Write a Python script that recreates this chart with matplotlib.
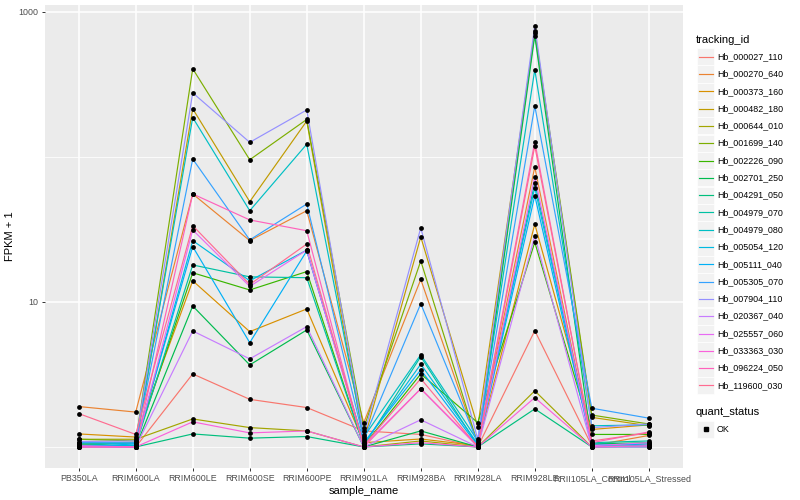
import numpy as np
import matplotlib
matplotlib.use("Agg")
import matplotlib.pyplot as plt
from matplotlib.ticker import FixedLocator, NullFormatter
from matplotlib.patches import Rectangle
from matplotlib.lines import Line2D

plt.rcParams['font.family'] = ['Liberation Sans', 'DejaVu Sans']

samples = ["PB350LA", "RRIM600LA", "RRIM600LE", "RRIM600SE", "RRIM600PE", "RRIM901LA",
           "RRIM928BA", "RRIM928LA", "RRIM928LE", "RRII105LA_Control", "RRII105LA_Stressed"]

tracking_ids = ["Hb_000027_110", "Hb_000270_640", "Hb_000373_160", "Hb_000482_180",
                "Hb_000644_010", "Hb_001699_140", "Hb_002226_090", "Hb_002701_250",
                "Hb_004291_050", "Hb_004979_070", "Hb_004979_080", "Hb_005054_120",
                "Hb_005111_040", "Hb_005305_070", "Hb_007904_110", "Hb_020367_040",
                "Hb_025557_060", "Hb_033363_030", "Hb_096224_050", "Hb_119600_030"]

# ggplot hue palette, 20 levels
colors = ["#F8766D", "#EA8331", "#D89000", "#C09B00", "#A3A500", "#7CAE00", "#39B600",
          "#00BB4E", "#00BF7D", "#00C1A3", "#00BFC4", "#00BAE0", "#00B0F6", "#35A2FF",
          "#9590FF", "#C77CFF", "#E76BF3", "#FA62DB", "#FF62BC", "#FF6C91"]

# FPKM + 1, one list per gene, in the order of samples
hb_000027_110 = [1.02, 1.00, 3.19, 2.13, 1.87, 1.29, 1.22, 1.00, 6.34, 1.02, 1.05]
hb_000270_640 = [1.90, 1.74, 55.6, 26.5, 42.6, 1.47, 14.3, 1.05, 85.3, 1.02, 1.20]
hb_000373_160 = [1.23, 1.17, 14.0, 6.24, 8.95, 1.07, 1.135, 1.02, 34.4, 1.32, 1.42]
hb_000482_180 = [1.05, 1.00, 215, 49.2, 177, 1.10, 28.1, 1.38, 713, 1.60, 1.40]
hb_000644_010 = [1.13, 1.13, 1.56, 1.36, 1.29, 1.00, 1.10, 1.00, 2.44, 1.00, 1.02]
hb_001699_140 = [1.13, 1.10, 406, 95.7, 181.5, 1.35, 19.2, 1.05, 740, 1.66, 1.44]
hb_002226_090 = [1.05, 1.07, 15.9, 12.1, 16.2, 1.02, 3.19, 1.47, 25.8, 1.22, 1.22]
hb_002701_250 = [1.02, 1.00, 9.38, 3.68, 6.41, 1.00, 1.29, 1.00, 687, 1.05, 1.07]
hb_004291_050 = [1.00, 1.00, 1.23, 1.15, 1.18, 1.00, 1.05, 1.00, 1.83, 1.00, 1.00]
hb_004979_070 = [1.05, 1.02, 18.0, 14.9, 14.7, 1.02, 4.20, 1.02, 66.5, 1.07, 1.10]
hb_004979_080 = [1.07, 1.05, 187, 42.6, 122.4, 1.17, 4.33, 1.10, 400, 1.40, 1.42]
hb_005054_120 = [1.02, 1.02, 26.5, 14.0, 22.8, 1.05, 3.72, 1.05, 61.4, 1.05, 1.02]
hb_005111_040 = [1.00, 1.05, 24.1, 5.24, 22.5, 1.07, 3.40, 1.02, 54.1, 1.02, 1.05]
hb_005305_070 = [1.07, 1.07, 96.8, 26.8, 47.4, 1.13, 9.73, 1.07, 225, 1.85, 1.58]
hb_007904_110 = [1.09, 1.10, 277, 126.2, 211, 1.20, 32.4, 1.13, 800, 1.36, 1.44]
hb_020367_040 = [1.00, 1.00, 6.31, 4.05, 6.76, 1.00, 1.54, 1.00, 28.5, 1.00, 1.00]
hb_025557_060 = [1.02, 1.00, 31.4, 12.8, 22.8, 1.02, 2.52, 1.00, 73.1, 1.02, 1.07]
hb_033363_030 = [1.00, 1.00, 1.49, 1.25, 1.29, 1.00, 1.07, 1.00, 2.19, 1.00, 1.02]
hb_096224_050 = [1.00, 1.00, 55.6, 36.8, 31.0, 1.00, 2.52, 1.02, 127.5, 1.07, 1.27]
hb_119600_030 = [1.70, 1.22, 33.6, 13.2, 25.1, 1.02, 2.96, 1.00, 119, 1.10, 1.25]

series = [hb_000027_110, hb_000270_640, hb_000373_160, hb_000482_180, hb_000644_010,
          hb_001699_140, hb_002226_090, hb_002701_250, hb_004291_050, hb_004979_070,
          hb_004979_080, hb_005054_120, hb_005111_040, hb_005305_070, hb_007904_110,
          hb_020367_040, hb_025557_060, hb_033363_030, hb_096224_050, hb_119600_030]

W, H = 800, 500
fig = plt.figure(figsize=(W / 100, H / 100), dpi=100)
fig.subplots_adjust(left=44.5 / W, right=683 / W, bottom=1 - 468 / H, top=1 - 5 / H)
ax = fig.add_subplot(111)
ax.set_facecolor("#EBEBEB")

x = np.arange(len(samples))
for vals, c in zip(series, colors):
    ax.plot(x, vals, color=c, lw=0.85, zorder=2)
for vals in series:
    ax.scatter(x, vals, s=12, color="black", marker="o", linewidths=0, zorder=3)

ax.set_yscale("log")
allv = np.log10(np.concatenate([np.array(s) for s in series]))
lo, hi = allv.min(), allv.max()
pad = 0.05 * (hi - lo)
ax.set_ylim(10 ** (lo - pad), 10 ** (hi + pad))
ax.set_xlim(-0.6, len(samples) - 0.4)

ax.yaxis.set_major_locator(FixedLocator([10, 1000]))
ax.set_yticklabels(["10", "1000"])
ax.yaxis.set_minor_locator(FixedLocator([1, 100]))
ax.yaxis.set_minor_formatter(NullFormatter())
ax.set_xticks(x)
ax.set_xticklabels(samples)

ax.grid(which="major", color="white", lw=1.1)
ax.grid(which="minor", axis="y", color="white", lw=0.55)
ax.set_axisbelow(True)
for s in ax.spines.values():
    s.set_visible(False)
ax.tick_params(which="major", length=2.5, width=0.7, color="#333333",
               labelcolor="#4D4D4D", labelsize=6.4, pad=2)
ax.tick_params(which="minor", length=0)

ax.set_xlabel("sample_name", fontsize=8, labelpad=2)
ax.set_ylabel("FPKM + 1", fontsize=8, labelpad=2)

# legend, drawn by hand in pixel space
def px(xp, yp):
    return xp / W, 1 - yp / H

fig.text(*px(696, 40), "tracking_id", fontsize=8, va="center", ha="left")
for i, (name, c) in enumerate(zip(tracking_ids, colors)):
    yc = 56.7 + i * 17.3
    fig.patches.append(Rectangle(px(697, yc + 8.5), 17 / W, 17 / H,
                                 transform=fig.transFigure, facecolor="#F2F2F2",
                                 edgecolor="white", lw=0.5))
    fig.lines.append(Line2D([698.5 / W, 712.5 / W], [1 - yc / H] * 2,
                            transform=fig.transFigure, color=c, lw=0.85))
    fig.text(*px(717, yc), name, fontsize=6.4, va="center", ha="left")

fig.text(*px(696, 412), "quant_status", fontsize=8, va="center", ha="left")
fig.patches.append(Rectangle(px(697, 429 + 8.5), 17 / W, 17 / H,
                             transform=fig.transFigure, facecolor="#F2F2F2",
                             edgecolor="white", lw=0.5))
fig.lines.append(Line2D([705.5 / W], [1 - 429 / H], transform=fig.transFigure,
                        marker="s", markersize=2.6, color="black", lw=0))
fig.text(*px(717, 429), "OK", fontsize=6.4, va="center", ha="left")

fig.savefig("out.png", dpi=100)
